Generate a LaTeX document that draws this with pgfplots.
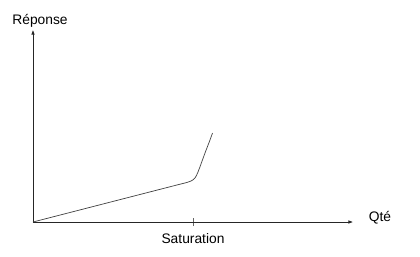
\documentclass[border=0pt]{standalone}
\usepackage{fontspec}
\setmainfont{Liberation Sans}
\usepackage{pgfplots}
\pgfplotsset{compat=1.18}
\usetikzlibrary{arrows.meta}
\begin{document}
\begin{tikzpicture}
\begin{axis}[
  scale only axis,
  x=1bp, y=1bp,
  xmin=0, xmax=320, ymin=0, ymax=192,
  axis lines=left,
  axis line style={black!85, line width=0.6bp, -{Latex[length=4.5bp,width=3.5bp]}},
  xtick={160}, xticklabels={Saturation},
  ytick=\empty,
  xtick align=center,
  major tick length=8bp,
  tick style={black!60, line width=0.6bp},
  ticklabel style={font=\fontsize{13.8bp}{15bp}\selectfont},
  xticklabel style={yshift=-4bp},
  clip=false,
]
\addplot[black!75, line width=0.7bp, smooth, tension=0.5] coordinates {
  (0,0) (140,36) (152,39) (158,41) (162,44) (165,50) (168,58) (172,69) (177,82) (179.5,89)
};
\node[font=\fontsize{13.8bp}{15bp}\selectfont] at (axis cs:347,4) {Qté};
\node[font=\fontsize{13.8bp}{15bp}\selectfont] at (axis cs:7,201) {Réponse};
\coordinate (bl) at (axis cs:-33,-35);
\coordinate (tr) at (axis cs:387,222);
\end{axis}
\pgfresetboundingbox
\path (bl) rectangle (tr);
\end{tikzpicture}
\end{document}
